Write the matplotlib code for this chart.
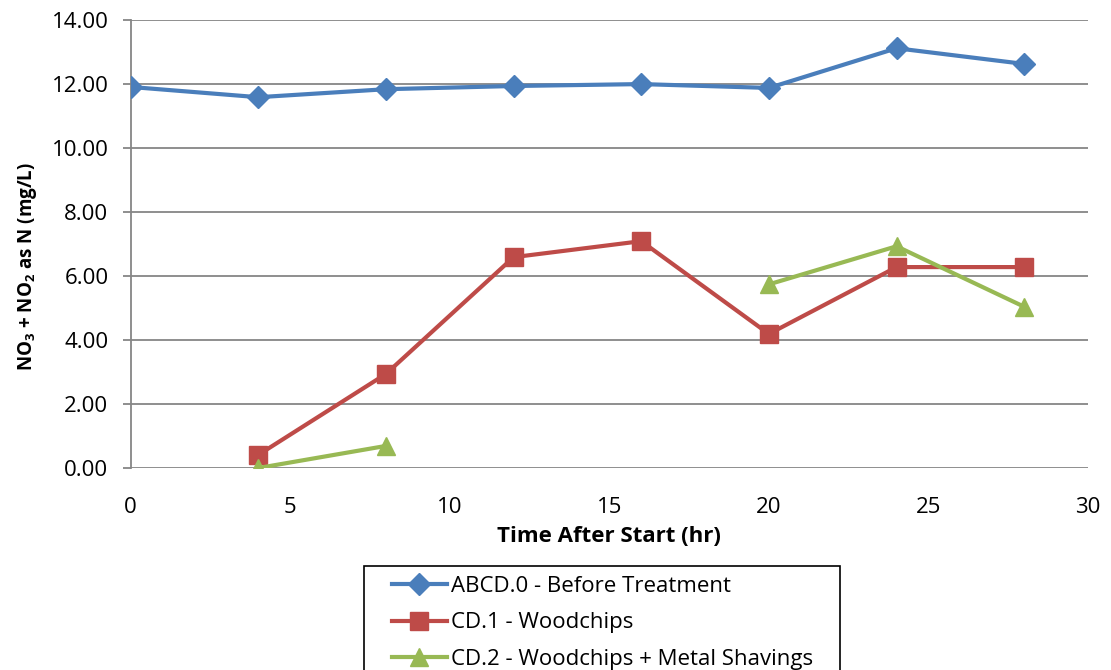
import matplotlib
matplotlib.use("Agg")
import matplotlib.pyplot as plt
from matplotlib.patches import Rectangle
import numpy as np

plt.rcParams['font.family'] = ['Open Sans', 'DejaVu Sans']
plt.rcParams['mathtext.fontset'] = 'custom'
plt.rcParams['mathtext.rm'] = 'Open Sans'
plt.rcParams['mathtext.bf'] = 'Open Sans:bold'

# time after start (hr)
hours = [0, 4, 8, 12, 16, 20, 24, 28]

# NO3 + NO2 as N (mg/L); nan = no sample
before = [11.91, 11.59, 11.84, 11.94, 12.00, 11.88, 13.12, 12.63]
woodchips = [np.nan, 0.41, 2.94, 6.59, 7.09, 4.19, 6.28, 6.28]
wood_metal = [np.nan, 0.00, 0.69, np.nan, np.nan, 5.74, 6.93, 5.04]

labels = ['ABCD.0 - Before Treatment', 'CD.1 - Woodchips',
          'CD.2 - Woodchips + Metal Shavings']

fig = plt.figure(figsize=(11.11, 6.70), dpi=100)
ax = fig.add_axes([0.1176, 0.3015, 0.8617, 0.6685])

ax.plot(hours, before, color='#4A7EBB', lw=3, marker='D', ms=11,
        label=labels[0], zorder=5)
ax.plot(hours, woodchips, color='#BE4B48', lw=3, marker='s', ms=13,
        label=labels[1], zorder=4)
ax.plot(hours, wood_metal, color='#98B954', lw=3, marker='^', ms=13,
        label=labels[2], zorder=6)

ax.set_xlim(0, 30)
ax.set_ylim(0, 14)
ax.set_xticks(range(0, 31, 5))
ax.set_yticks(np.arange(0, 14.1, 2))
ax.set_yticklabels([f'{v:.2f}' for v in np.arange(0, 14.1, 2)])
ax.grid(axis='y', color='#868686', lw=1.3)
ax.set_axisbelow(True)
for s in ['top', 'right', 'bottom']:
    ax.spines[s].set_visible(False)
ax.spines['left'].set_color('#868686')
ax.spines['left'].set_linewidth(1.3)
ax.tick_params(axis='y', length=6, color='#868686', width=1.3, labelsize=16, pad=10)
ax.tick_params(axis='x', length=0, labelsize=16, pad=21)

ax.set_xlabel('Time After Start (hr)', fontsize=16, fontweight='bold', labelpad=6)
ax.set_ylabel(r'NO$_\mathbf{3}$ + NO$_\mathbf{2}$ as N (mg/L)', fontsize=13.5,
              fontweight='bold')
ax.yaxis.set_label_coords(-0.096, 0.449)

leg = fig.legend(loc='upper center', bbox_to_anchor=(0.542, 0.152), fontsize=16,
                 frameon=False, handlelength=2.5, labelspacing=0.7,
                 borderpad=0.35, handletextpad=0.15, borderaxespad=0)

# Excel-style legend frame: wider side padding than the vertical one
fig.canvas.draw()
bb = leg.get_window_extent()
fig.add_artist(Rectangle((bb.x0 - 20, bb.y0), bb.width + 40, bb.height + 2,
                         transform=None, fill=False, edgecolor='black', lw=1.2))

fig.savefig('out.png', dpi=100)
